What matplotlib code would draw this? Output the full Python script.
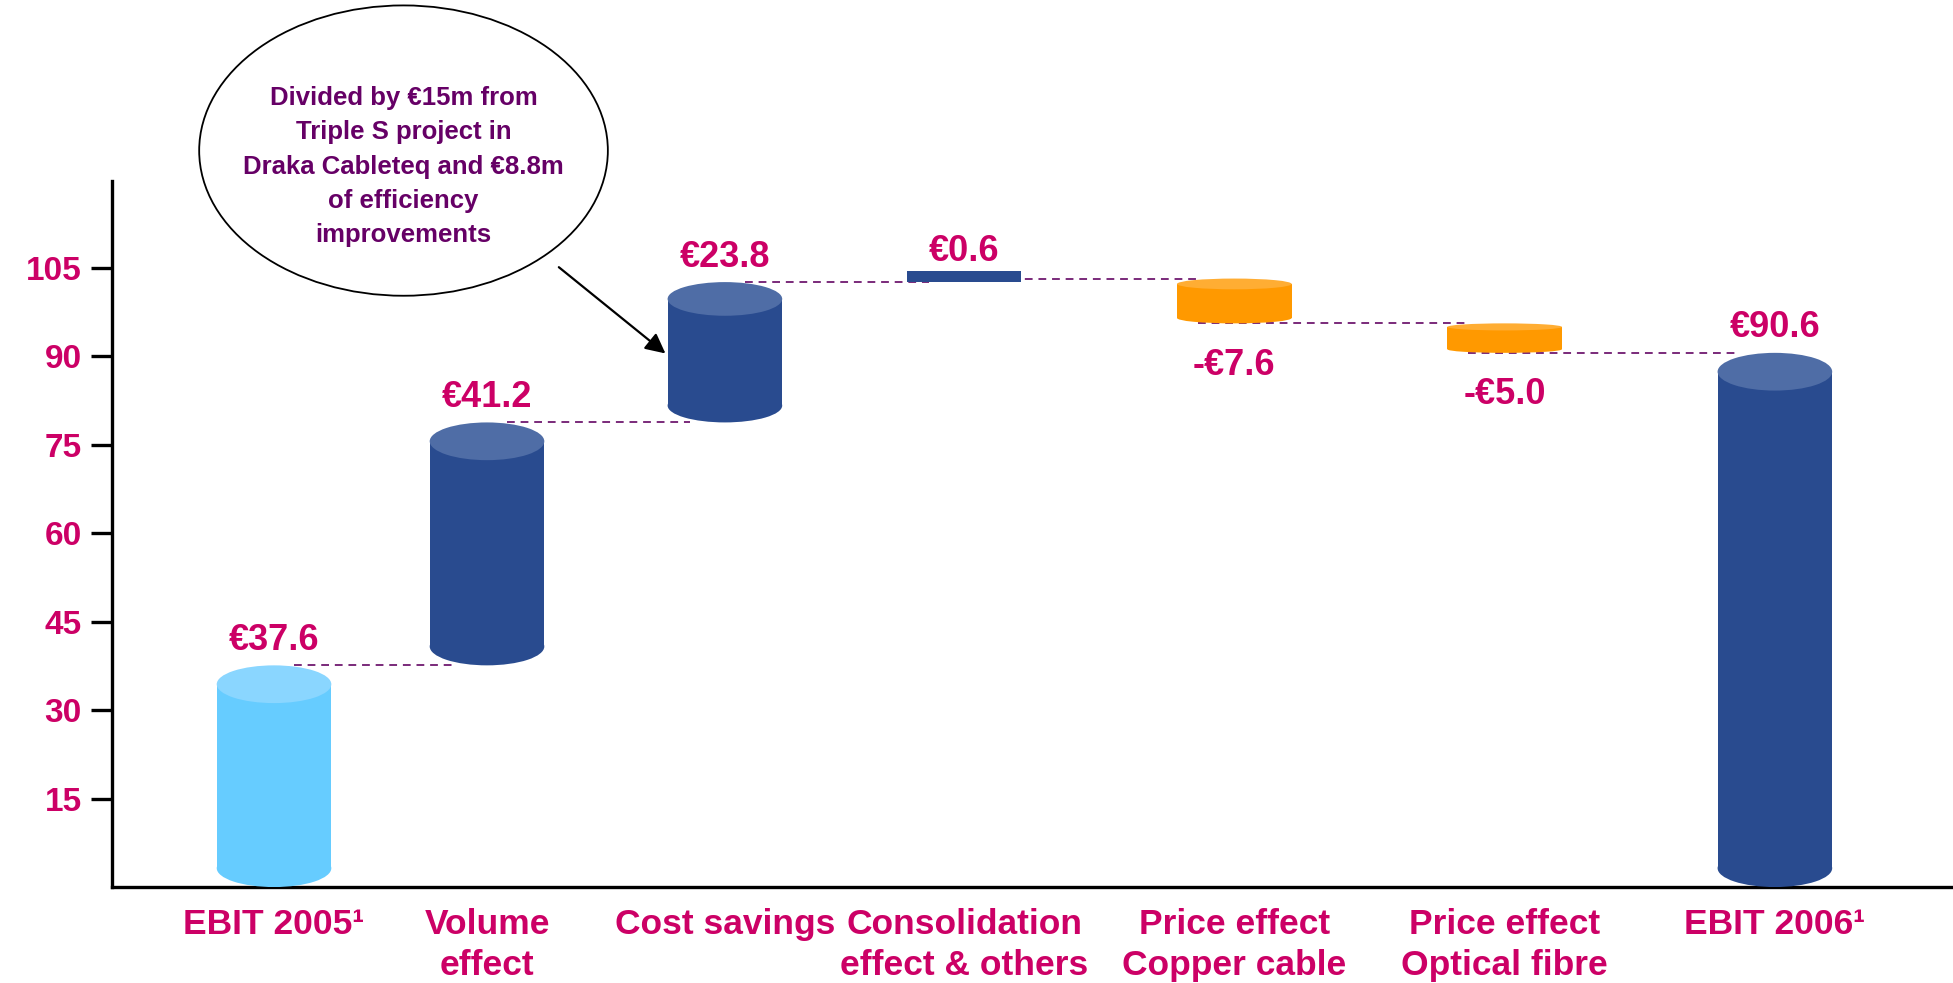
import numpy as np
import matplotlib
matplotlib.use('Agg')
import matplotlib.pyplot as plt
from matplotlib.patches import Ellipse, Rectangle

plt.rcParams['font.family'] = ['Liberation Sans', 'DejaVu Sans']
plt.rcParams['font.weight'] = 'bold'

# ---------------- data ----------------
categories = ['EBIT 2005\u00b9', 'Volume\neffect', 'Cost savings',
              'Consolidation\neffect & others', 'Price effect\nCopper cable',
              'Price effect\nOptical fibre', 'EBIT 2006\u00b9']
changes = [37.6, 41.2, 23.8, 0.6, -7.6, -5.0]
total = 90.6
value_labels = ['\u20ac37.6', '\u20ac41.2', '\u20ac23.8', '\u20ac0.6',
                '-\u20ac7.6', '-\u20ac5.0', '\u20ac90.6']
yticks = [15, 30, 45, 60, 75, 90, 105]
note = ('Divided by \u20ac15m from\nTriple S project in\n'
        'Draka Cableteq and \u20ac8.8m\nof efficiency\nimprovements')

# ---------------- layout ----------------
xpos = [220, 391, 582, 774, 991, 1208, 1425]
bar_w = 92
magenta = '#CC0066'
purple = '#660066'
light_body, light_cap = '#66CCFF', '#8AD6FF'
blue_body, blue_cap = '#294B8F', '#4F6DA6'
orange_body, orange_cap = '#FF9900', '#FFAD33'

levels = np.cumsum(changes)
lows, highs, kinds = [], [], []
prev = 0.0
for i, lv in enumerate(levels):
    lows.append(min(prev, lv))
    highs.append(max(prev, lv))
    kinds.append('first' if i == 0 else ('up' if lv > prev else 'down'))
    prev = lv
lows.append(0.0)
highs.append(total)
kinds.append('total')

fig = plt.figure(figsize=(19.53, 9.83), dpi=100)
ax = fig.add_axes([0.0574, 0.0976, 0.9426, 0.7186])


def cylinder(ax, x, lo, hi, body, cap):
    h = hi - lo
    if h < 1.0:
        # too thin to show as a cylinder: flat disk
        ax.add_patch(Rectangle((x - bar_w / 2, lo), bar_w, 1.8,
                               facecolor=body, edgecolor='none', zorder=3))
        return
    eh = min(3.2, 0.12 * h)
    ax.add_patch(Rectangle((x - bar_w / 2, lo + eh), bar_w, h - 2 * eh,
                           facecolor=body, edgecolor='none', zorder=3))
    ax.add_patch(Ellipse((x, lo + eh), bar_w, 2 * eh, facecolor=body,
                         edgecolor='none', zorder=3))
    ax.add_patch(Ellipse((x, hi - eh), bar_w, 2 * eh, facecolor=cap,
                         edgecolor='none', zorder=4))


for x, lo, hi, k in zip(xpos, lows, highs, kinds):
    if k == 'first':
        cylinder(ax, x, lo, hi, light_body, light_cap)
    elif k == 'down':
        cylinder(ax, x, lo, hi, orange_body, orange_cap)
    else:
        cylinder(ax, x, lo, hi, blue_body, blue_cap)

# dashed connectors
for i, lv in enumerate(levels):
    x0 = xpos[i] + 16 if kinds[i] in ('first', 'up') else xpos[i] - 29
    x1 = xpos[i + 1] - 28
    ax.plot([x0, x1], [lv, lv], color='#7A2A7A', lw=1.4,
            ls=(0, (4, 3)), zorder=2)

# value labels
for i, (x, lab) in enumerate(zip(xpos, value_labels)):
    if kinds[i] == 'down':
        ax.annotate(lab, (x, lows[i]), xytext=(0, -30),
                    textcoords='offset points', ha='center', va='center',
                    color=magenta, fontsize=26, fontweight='bold')
    else:
        top = highs[i] + (0.3 if highs[i] - lows[i] < 1 else 0)
        ax.annotate(lab, (x, top), xytext=(0, 18),
                    textcoords='offset points', ha='center', va='center',
                    color=magenta, fontsize=26, fontweight='bold')

# callout
ax.add_patch(Ellipse((0.1583, 1.0426), 0.222, 0.411, transform=ax.transAxes,
                     facecolor='white', edgecolor='black', lw=1.3,
                     clip_on=False, zorder=5))
ax.text(0.1583, 1.02, note, transform=ax.transAxes, ha='center',
        va='center', color=purple, fontsize=18.5, fontweight='bold',
        linespacing=1.53, zorder=6)
ax.annotate('', xy=(xpos[2] - bar_w / 2, 90.2), xycoords='data',
            xytext=(0.2415, 0.88), textcoords='axes fraction',
            arrowprops=dict(arrowstyle='-|>', color='black', lw=1.6,
                            mutation_scale=30), zorder=6)

# axes styling
ax.set_xlim(90, 1568)
ax.set_ylim(0, 119.8)
ax.spines['top'].set_visible(False)
ax.spines['right'].set_visible(False)
ax.spines['left'].set_linewidth(2.4)
ax.spines['bottom'].set_linewidth(2.4)
ax.set_yticks(yticks)
ax.set_yticklabels([str(t) for t in yticks])
ax.tick_params(axis='y', length=15, width=2.4, pad=7, labelsize=24,
               labelcolor=magenta)
ax.set_xticks(xpos)
ax.set_xticklabels(categories, linespacing=1.3)
ax.tick_params(axis='x', length=0, pad=15, labelsize=25.5, labelcolor=magenta)
for t in ax.get_xticklabels() + ax.get_yticklabels():
    t.set_fontweight('bold')

fig.savefig('out.png', dpi=100)
